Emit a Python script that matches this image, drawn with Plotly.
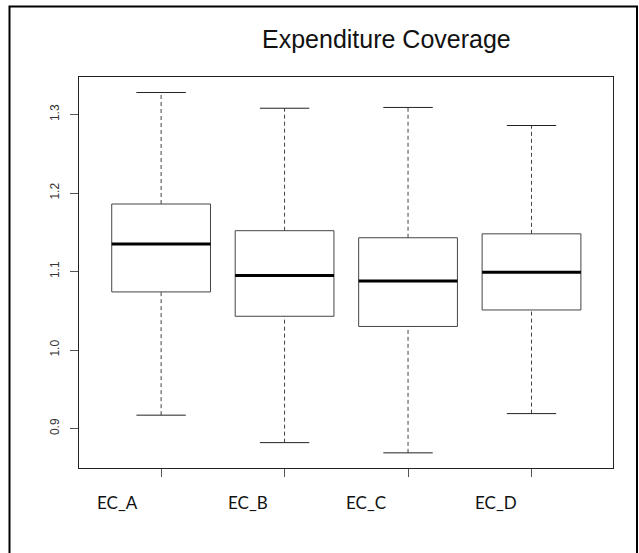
import plotly.graph_objects as go

# Five-number summaries per group
categories = ["EC_A", "EC_B", "EC_C", "EC_D"]
lower_whisker = [0.917, 0.882, 0.869, 0.919]
q1 = [1.074, 1.043, 1.030, 1.051]
median = [1.135, 1.095, 1.088, 1.099]
q3 = [1.186, 1.152, 1.143, 1.148]
upper_whisker = [1.328, 1.308, 1.309, 1.286]
y_ticks = [0.9, 1.0, 1.1, 1.2, 1.3]

W, H = 639, 553
BOX_HALF = 0.4      # boxwex 0.8
CAP_HALF = 0.2      # staplewex 0.5
label_shift = [-0.35, -0.30, -0.34, -0.29]  # group labels sit left of each box

positions = list(range(1, len(categories) + 1))

fig = go.Figure()
shapes = []
for i, x in enumerate(positions):
    # dashed whiskers
    for a, b in ((q3[i], upper_whisker[i]), (lower_whisker[i], q1[i])):
        shapes.append(dict(type="line", xref="x", yref="y", x0=x, x1=x, y0=a, y1=b,
                           line=dict(color="#444", width=1, dash="4px,3px")))
    # staples
    for v in (upper_whisker[i], lower_whisker[i]):
        shapes.append(dict(type="line", xref="x", yref="y", x0=x - CAP_HALF, x1=x + CAP_HALF,
                           y0=v, y1=v, line=dict(color="#222", width=1)))
    # box
    shapes.append(dict(type="rect", xref="x", yref="y", x0=x - BOX_HALF, x1=x + BOX_HALF,
                       y0=q1[i], y1=q3[i], line=dict(color="#444", width=1),
                       fillcolor="rgba(0,0,0,0)"))
    # median
    shapes.append(dict(type="line", xref="x", yref="y", x0=x - BOX_HALF, x1=x + BOX_HALF,
                       y0=median[i], y1=median[i], line=dict(color="#000", width=3)))

# outer frame around the whole figure
shapes.append(dict(type="rect", xref="paper", yref="paper",
                   x0=9.5 / W, x1=637 / W, y0=-0.1, y1=1 - 6.5 / H,
                   line=dict(color="#000", width=2), layer="above"))

annotations = [
    dict(text="Expenditure Coverage", xref="paper", yref="paper",
         x=386.5 / W, y=1 - 38.5 / H, xanchor="center", yanchor="middle", showarrow=False,
         font=dict(family="Liberation Sans, Arial", size=25, color="#111")),
]
for i, x in enumerate(positions):
    annotations.append(dict(text=categories[i], xref="x", yref="paper",
                            x=x + label_shift[i], y=1 - 502 / H,
                            xanchor="center", yanchor="middle", showarrow=False,
                            font=dict(family="Lato", size=17, color="#111")))

fig.update_layout(
    width=W, height=H,
    margin=dict(l=0, r=0, t=0, b=0),
    paper_bgcolor="white", plot_bgcolor="white",
    showlegend=False,
    shapes=shapes, annotations=annotations,
    xaxis=dict(domain=[79 / W, 613 / W], range=[0.335, 4.66],
               tickvals=positions, showticklabels=False,
               ticks="outside", ticklen=8, tickcolor="#555", tickwidth=1,
               showline=True, linecolor="#222", linewidth=1, mirror=True,
               showgrid=False, zeroline=False),
    yaxis=dict(domain=[1 - 468 / H, 1 - 77.3 / H], range=[0.8497, 1.3474],
               tickvals=y_ticks, ticktext=[f"{v:.1f}" for v in y_ticks],
               tickangle=-90, ticks="outside", ticklen=8, tickcolor="#555", tickwidth=1,
               ticklabelstandoff=6,
               tickfont=dict(family="Liberation Sans, Arial", size=12, color="#333"),
               showline=True, linecolor="#222", linewidth=1, mirror=True,
               showgrid=False, zeroline=False),
)

fig.write_html("out.html")
